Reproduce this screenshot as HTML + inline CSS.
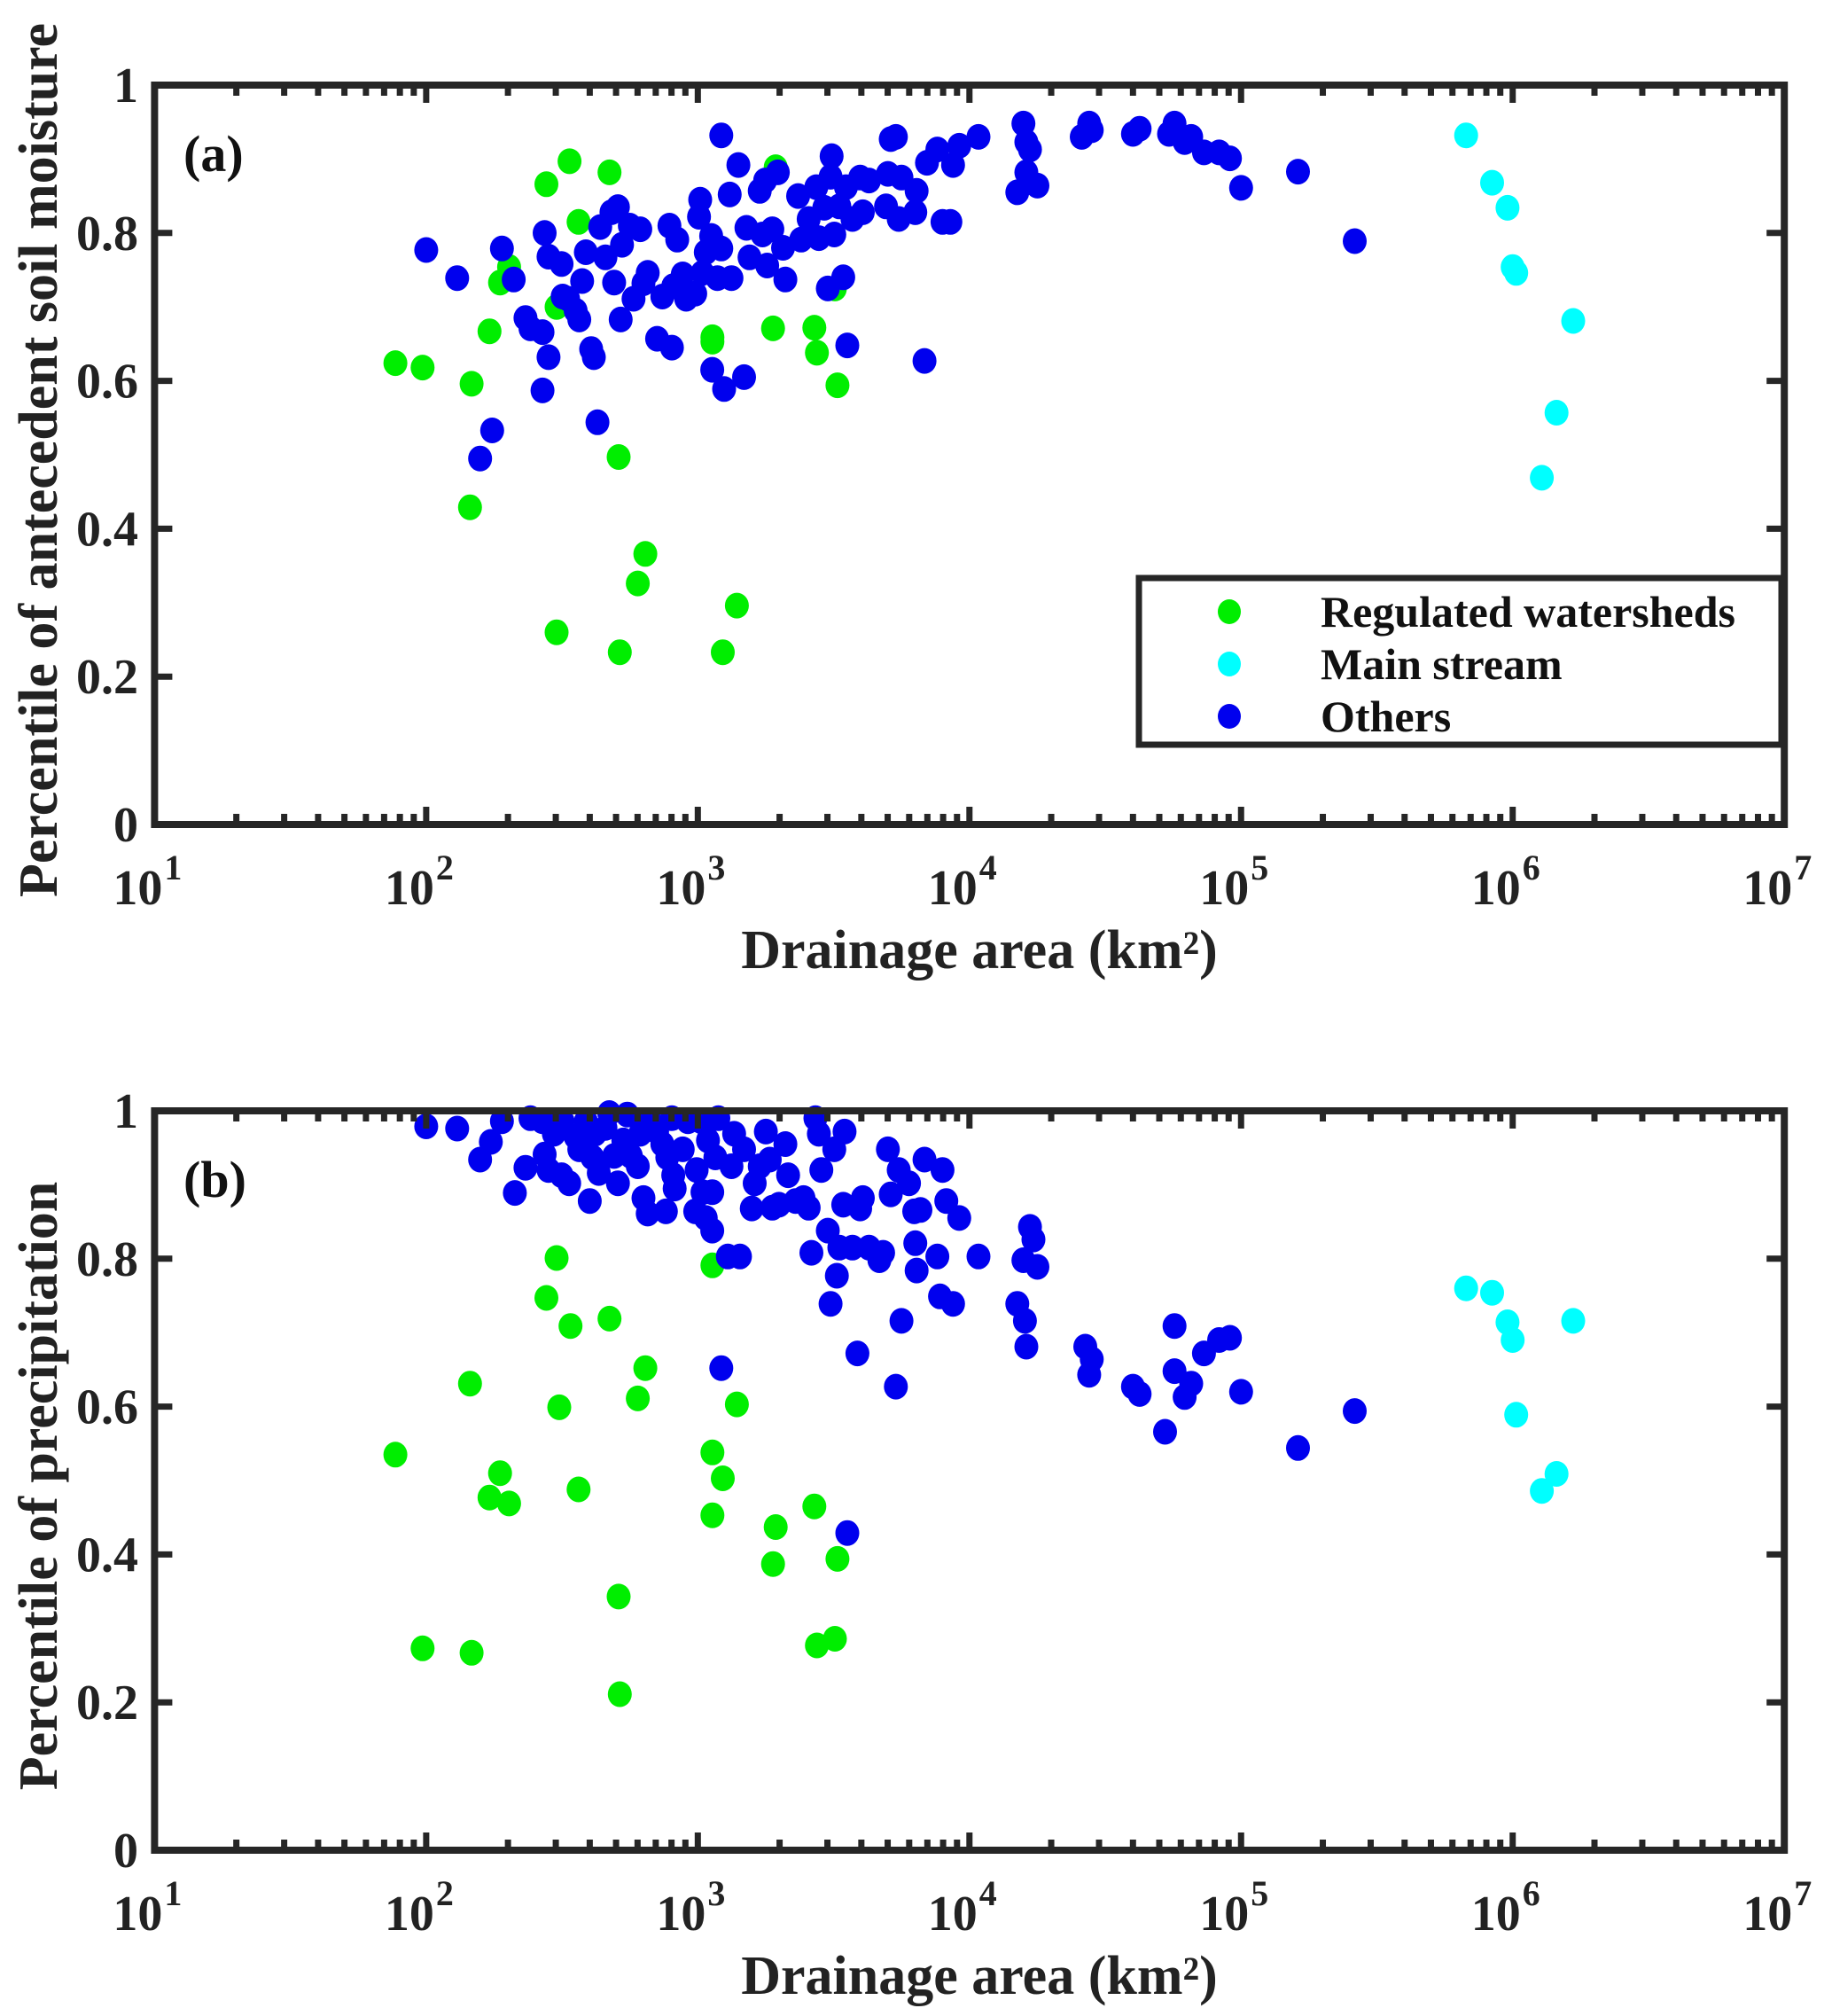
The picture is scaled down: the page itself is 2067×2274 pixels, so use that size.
<!DOCTYPE html>
<html><head><meta charset="utf-8"><style>
html,body{margin:0;padding:0;background:#fff;}
svg{display:block;font-family:"Liberation Serif",serif;font-weight:bold;}
</style></head><body>
<svg id="chart" width="2067" height="2274" viewBox="0 0 2067 2274" xmlns="http://www.w3.org/2000/svg"></svg>
<script>
// ---- Panel (a): percentile of antecedent soil moisture ----
const regAreaA = [77,97,147,145,171,187,202,277,337,364,302,473,511,601,641,302,516,1132,1132,1236,1393,1892,1935,2686,2744,3266,3196];
const regSmA   = [.624,.618,.596,.429,.667,.733,.754,.866,.897,.815,.700,.882,.497,.326,.366,.260,.233,.653,.659,.233,.296,.671,.889,.672,.638,.594,.725];
const mainAreaA = [674000,840000,957000,1000000,1030000,1670000,1450000,1280000];
const mainSmA   = [.932,.868,.834,.754,.746,.681,.557,.469];
const othAreaA = [100,130,190,210,175,158,232,242,268,273,282,282,268,318,315,333,355,366,375,387,405,414,427,437,457,481,492,508,520,526,562,580,614,631,654,708,740,786,803,812,840,880,906,978,
1010,1020,1040,1070,1120,1180,1220,1220,1250,1130,1310,1330,1410,1480,1510,1550,1690,1730,1770,1800,1880,1970,2060,2100,2340,2400,2560,2730,2790,2920,3010,3080,3110,3180,3320,3430,3510,3550,3710,3960,4050,4270,4930,5010,5130,5360,5490,5620,6320,6390,6830,6980,7620,7960,8510,8700,9170,
10800,15800,16200,15000,16200,16700,17800,25900,27600,28200,40000,42300,54300,56900,62000,65500,73000,83000,91000,100000,162000,262000];
const othSmA = [.777,.739,.779,.737,.533,.495,.685,.671,.666,.800,.768,.632,.587,.714,.758,.711,.695,.683,.735,.774,.643,.632,.544,.808,.767,.828,.733,.835,.683,.784,.810,.711,.805,.732,.746,.657,.714,.810,.645,.728,.791,.744,.711,.718,
.822,.845,.746,.774,.796,.739,.932,.779,.589,.615,.852,.739,.892,.605,.807,.767,.857,.798,.871,.756,.805,.882,.780,.737,.850,.791,.819,.862,.793,.834,.725,.876,.904,.798,.836,.740,.862,.648,.819,.875,.828,.871,.836,.880,.927,.930,.819,.875,.828,.857,.627,.895,.913,.815,.815,.892,.918,
.930,.948,.923,.855,.882,.913,.864,.930,.948,.939,.934,.941,.934,.948,.923,.930,.909,.909,.901,.861,.883,.789];

// ---- Panel (b): percentile of precipitation ----
const regAreaB = [77,97,147,145,171,187,202,277,302,340,309,364,473,511,516,601,641,1132,1132,1132,1236,1393,1892,1935,2686,2744,3266,3196];
const regPrB   = [.535,.273,.267,.631,.477,.510,.469,.747,.801,.709,.599,.488,.719,.343,.211,.611,.652,.791,.538,.453,.503,.603,.387,.437,.465,.277,.394,.286];
const mainAreaB = [674000,840000,957000,1000000,1030000,1280000,1450000,1670000];
const mainPrB   = [.760,.754,.714,.690,.589,.486,.509,.716];
const othAreaB = [100,130,158,173,190,212,232,242,268,273,282,295,315,318,336,355,366,387,400,409,418,432,457,472,492,508,532,550,567,601,614,631,654,668,708,740,763,772,803,812,822,880,920,978,990,
1030,1040,1070,1090,1130,1130,1160,1190,1220,1290,1330,1360,1430,1480,1580,1620,1690,1780,1840,1880,1990,2100,2150,2290,2450,2560,2620,2710,2790,2850,3010,3080,3180,3250,3320,3430,3470,3550,3710,3870,3960,4050,4270,4660,4810,5010,5130,5360,5490,5620,5990,6260,6320,6390,6600,6830,7620,7790,7960,8220,8700,9170,
10800,15000,15800,16000,16200,16700,17200,17800,26700,27600,28200,40000,42300,52500,56900,56900,62000,65500,73000,83000,91000,100000,162000,262000];
const othPrB = [.979,.976,.934,.958,.986,.889,.923,.990,.986,.941,.920,.969,.913,.986,.902,.965,.948,.986,.878,.937,.969,.916,.977,.997,.939,.902,.960,.995,.939,.925,.969,.882,.861,.986,.972,.955,.864,.937,.990,.913,.895,.948,.986,.864,.920,
.986,.890,.855,.960,.890,.838,.937,.990,.652,.803,.925,.969,.803,.948,.868,.902,.925,.972,.934,.869,.873,.955,.913,.878,.882,.869,.808,.990,.969,.920,.838,.739,.948,.777,.815,.873,.972,.429,.815,.672,.868,.882,.815,.798,.808,.948,.887,.627,.920,.716,.902,.864,.821,.784,.866,.934,.803,.749,.920,.878,.739,.855,
.803,.739,.798,.716,.681,.843,.826,.789,.681,.643,.664,.627,.617,.566,.709,.648,.613,.631,.672,.690,.693,.620,.544,.594];

const yTicks = [0, 0.2, 0.4, 0.6, 0.8, 1];
const yTickLabels = ["0", "0.2", "0.4", "0.6", "0.8", "1"];
const xDecades = [1, 2, 3, 4, 5, 6, 7];
const legendLabels = ["Regulated watersheds", "Main stream", "Others"];

const NS = "http://www.w3.org/2000/svg";
const svg = document.getElementById("chart");
const X0 = 174.4, X1 = 2013.2, LMIN = 1, LMAX = 7;
const FRAME = "#262626";
function xScale(a){ return X0 + (Math.log10(a) - LMIN) / (LMAX - LMIN) * (X1 - X0); }
function mk(tag, attrs, parent){
  const e = document.createElementNS(NS, tag);
  for (const k in attrs) e.setAttribute(k, attrs[k]);
  (parent || svg).appendChild(e);
  return e;
}

function panel(id, top, bottom, label, yTitle, series){
  const g = mk("g", {});
  
  
  const yScale = v => bottom - v * (bottom - top);
  const pg = mk("g", {}, g);
  
  
  series.forEach(s => {
    for (let i = 0; i < s.x.length; i++){
      const c = mk("ellipse", {cx: xScale(s.x[i]).toFixed(1), cy: yScale(s.y[i]).toFixed(1), rx: 13.5, ry: 14.5, fill: s.color}, pg);
      
      
    }
  });
  const tg = mk("g", {stroke: FRAME, "stroke-width": 7}, g);
  
  
  for (let d = 1; d < 7; d++){
    for (let m = 1; m < 10; m++){
      const x = xScale(Math.pow(10, d) * m);
      const len = m === 1 ? 20 : 12;
      mk("line", {x1: x, x2: x, y1: bottom, y2: bottom - len}, tg);
      mk("line", {x1: x, x2: x, y1: top, y2: top + len}, tg);
    }
  }
  yTicks.forEach(v => {
    const y = yScale(v);
    mk("line", {x1: X0, x2: X0 + 20, y1: y, y2: y}, tg);
    mk("line", {x1: X1, x2: X1 - 20, y1: y, y2: y}, tg);
  });
  const fr = mk("rect", {x: X0, y: top, width: X1 - X0, height: bottom - top, fill: "none", stroke: FRAME, "stroke-width": 8}, g);
  
  
  yTicks.forEach((v, i) => {
    const t = mk("text", {x: 156, y: yScale(v) + 19, "text-anchor": "end", "font-size": 56, fill: "#222"}, g);
    t.textContent = yTickLabels[i];
    
    
  });
  xDecades.forEach(d => {
    const x = xScale(Math.pow(10, d));
    const t = mk("text", {x: x - 8, y: bottom + 90, "text-anchor": "middle", "font-size": 56, fill: "#222"}, g);
    t.textContent = "10";
    const sup = mk("tspan", {dy: -28, "font-size": 40, dx: 2}, t);
    sup.textContent = String(d);
    
    
  });
  const xt = mk("text", {x: 1105, y: bottom + 162, "text-anchor": "middle", "font-size": 62, fill: "#222"}, g);
  xt.textContent = "Drainage area (km²)";
  
  
  const cy = (top + bottom) / 2 + 6;
  const yt = mk("text", {x: 0, y: 0, transform: "translate(64," + cy + ") rotate(-90)", "text-anchor": "middle", "font-size": 62, fill: "#222"}, g);
  yt.textContent = yTitle;
  
  
  const pl = mk("text", {x: 207, y: top + 97, "font-size": 58, fill: "#111"}, g);
  pl.textContent = label;
  
  
}

const GREEN = "#00ee00", CYAN = "#00ffff", BLUE = "#0000ee";
panel("a", 96, 930, "(a)", "Percentile of antecedent soil moisture", [
  {name: "regulated", color: GREEN, x: regAreaA, y: regSmA},
  {name: "main-stream", color: CYAN, x: mainAreaA, y: mainSmA},
  {name: "others", color: BLUE, x: othAreaA, y: othSmA}
]);
panel("b", 1253, 2087, "(b)", "Percentile of precipitation", [
  {name: "regulated", color: GREEN, x: regAreaB, y: regPrB},
  {name: "main-stream", color: CYAN, x: mainAreaB, y: mainPrB},
  {name: "others", color: BLUE, x: othAreaB, y: othPrB}
]);

const lg = mk("g", {});


mk("rect", {x: 1285, y: 652, width: 725, height: 188, fill: "#fff", stroke: FRAME, "stroke-width": 7}, lg);
const legColors = [GREEN, CYAN, BLUE];
legendLabels.forEach((lab, i) => {
  const y = 690 + i * 59;
  const m = mk("ellipse", {cx: 1387, cy: y, rx: 13, ry: 14, fill: legColors[i]}, lg);
  
  
  const t = mk("text", {x: 1490, y: y + 17, "font-size": 50, fill: "#111"}, lg);
  t.textContent = lab;
  
  
});
</script>
</body></html>
